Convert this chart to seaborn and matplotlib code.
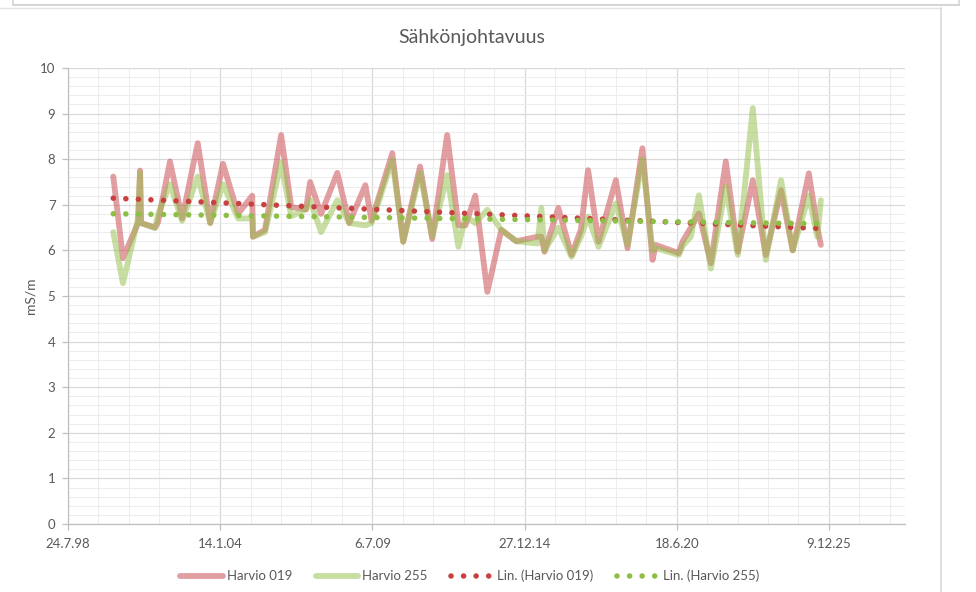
# -*- coding: utf-8 -*-

# Importing Libraries
import numpy as np
import pandas as pd
import matplotlib
matplotlib.use("Agg")
import matplotlib.pyplot as plt
import matplotlib.dates as mdates
from matplotlib.lines import Line2D
from matplotlib.ticker import FixedLocator, FuncFormatter, MultipleLocator
import seaborn as sns

"""# Data (read off the chart)"""

dates = [
    "2000-03-10", "2000-07-15", "2001-01-30", "2001-02-25", "2001-03-10",
    "2001-09-10", "2001-10-20", "2002-03-25", "2002-09-01", "2003-03-25",
    "2003-09-05", "2004-02-20", "2004-09-05", "2005-03-10", "2005-03-20",
    "2005-08-25", "2006-03-25", "2006-08-05", "2007-02-15", "2007-04-10",
    "2007-09-01", "2008-04-01", "2008-09-05", "2009-04-05", "2009-06-25",
    "2010-03-25", "2010-08-15", "2011-03-25", "2011-09-01", "2012-03-15",
    "2012-08-10", "2012-11-10", "2013-03-20", "2013-08-25", "2014-02-25",
    "2014-09-10", "2015-06-15", "2015-08-05", "2015-09-15", "2016-03-15",
    "2016-09-05", "2017-01-05", "2017-04-10", "2017-08-25", "2018-04-10",
    "2018-09-10", "2019-03-25", "2019-08-05", "2019-09-15", "2020-07-15",
    "2020-09-05", "2020-12-20", "2021-04-05", "2021-09-10", "2022-03-25",
    "2022-08-30", "2023-03-15", "2023-09-01", "2024-03-20", "2024-08-20",
    "2025-03-20", "2025-07-10", "2025-08-25",
]

harvio_019 = [
    7.62, 5.83, 6.60, 7.75, 6.60, 6.50, 6.62, 7.95, 6.70, 8.35,
    6.60, 7.90, 6.80, 7.20, 6.30, 6.45, 8.53, 6.95, 6.90, 7.50,
    6.80, 7.70, 6.60, 7.43, 6.65, 8.13, 6.19, 7.84, 6.25, 8.53,
    6.55, 6.55, 7.20, 5.09, 6.45, 6.20, 6.30, 6.30, 5.97, 6.93,
    5.90, 6.45, 7.76, 6.19, 7.54, 6.05, 8.24, 5.79, 6.12, 5.94,
    6.20, 6.50, 6.81, 5.72, 7.95, 5.97, 7.54, 5.90, 7.32, 6.00,
    7.69, 6.50, 6.12,
]

harvio_255 = [
    6.40, 5.28, 6.70, 7.70, 6.60, 6.49, 6.80, 7.45, 6.65, 7.62,
    6.60, 7.45, 6.70, 6.70, 6.30, 6.40, 7.92, 6.75, 6.90, 7.10,
    6.40, 7.10, 6.60, 6.55, 6.60, 7.98, 6.19, 7.70, 6.30, 7.65,
    6.08, 6.75, 6.60, 6.89, 6.45, 6.20, 6.15, 6.93, 6.00, 6.50,
    5.86, 6.30, 6.74, 6.08, 7.03, 6.12, 8.00, 6.00, 6.05, 5.90,
    6.10, 6.30, 7.21, 5.60, 7.40, 5.90, 9.12, 5.79, 7.54, 6.00,
    7.20, 6.30, 7.10,
]

series_names = ["Harvio 019", "Harvio 255"]
trend_names = ["Lin. (Harvio 019)", "Lin. (Harvio 255)"]
y_ticks = list(range(0, 11))

# Excel style date axis: 24.7.98 + 11000 days, major every 2000 days, minor every 400
axis_start = pd.Timestamp("1998-07-24")
axis_days = 11000
major_days = 2000
minor_days = 400

df = pd.DataFrame({
    "date": mdates.date2num(pd.to_datetime(dates)),
    "Harvio 019": harvio_019,
    "Harvio 255": harvio_255,
})

"""# Plot"""

sns.set_style("white")
plt.rcParams['font.family'] = ['Lato', 'DejaVu Sans']

text_color = "#595959"
pink = "#C9474D"
green = "#95BF4D"
red_dot = "#C8403F"
green_dot = "#8CBF45"

fig = plt.figure(figsize=(9.76, 5.92), dpi=100)
ax = fig.add_axes([68 / 976, 68 / 592, 837 / 976, 456 / 592])

sns.lineplot(data=df, x="date", y="Harvio 019", ax=ax, color=pink, alpha=0.52,
             linewidth=4.2, label=series_names[0], sort=False,
             solid_joinstyle="round", solid_capstyle="round")
sns.lineplot(data=df, x="date", y="Harvio 255", ax=ax, color=green, alpha=0.52,
             linewidth=4.2, label=series_names[1], sort=False,
             solid_joinstyle="round", solid_capstyle="round")

# Linear trendlines
sns.regplot(data=df, x="date", y="Harvio 019", ax=ax, scatter=False, ci=None,
            label=trend_names[0],
            line_kws=dict(color=red_dot, linewidth=4.0, linestyle=(0, (0.01, 2.25)),
                          dash_capstyle="round"))
sns.regplot(data=df, x="date", y="Harvio 255", ax=ax, scatter=False, ci=None,
            label=trend_names[1],
            line_kws=dict(color=green_dot, linewidth=4.0, linestyle=(0, (0.01, 2.25)),
                          dash_capstyle="round"))

leg = ax.get_legend()
if leg is not None:
    leg.remove()

# Axes
x0 = mdates.date2num(axis_start)
ax.set_xlim(x0, x0 + axis_days)
ax.set_ylim(0, 10)
ax.xaxis.set_major_locator(FixedLocator(np.arange(x0, x0 + axis_days + 1, major_days)))
ax.xaxis.set_minor_locator(FixedLocator(np.arange(x0, x0 + axis_days + 1, minor_days)))


def date_label(v, pos):
    d = mdates.num2date(v)
    return f"{d.day}.{d.month}.{d:%y}"


ax.xaxis.set_major_formatter(FuncFormatter(date_label))
ax.set_yticks(y_ticks)
ax.yaxis.set_minor_locator(MultipleLocator(0.2))

ax.grid(True, which="major", color="#D9D9D9", linewidth=0.9)
ax.grid(True, which="minor", color="#EDEDED", linewidth=0.8)
ax.set_axisbelow(True)

for side in ["top", "right"]:
    ax.spines[side].set_visible(False)
for side in ["left", "bottom"]:
    ax.spines[side].set_color("#BFBFBF")
    ax.spines[side].set_linewidth(0.9)

ax.tick_params(axis="both", which="major", direction="out", length=4, width=0.9,
               color="#BFBFBF", labelcolor=text_color, labelsize=9.5)
ax.tick_params(axis="y", which="major", pad=5)
ax.tick_params(axis="x", which="major", pad=6)
ax.tick_params(which="minor", length=0)
ax.tick_params(axis="x", which="major", bottom=True)
ax.tick_params(axis="y", which="major", left=True)
ax.set_xlabel("")
ax.set_ylabel("")

fig.text(31 / 976, 0.5, "mS/m", rotation=90, ha="center", va="center",
         fontsize=10, color=text_color)
fig.text(472 / 976, 1 - 37 / 592, "Sähkönjohtavuus", ha="center", va="center",
         fontsize=14, color=text_color)

handles, labels = ax.get_legend_handles_labels()
fig.legend(handles, labels, loc="center", bbox_to_anchor=(470 / 976, 1 - 576 / 592),
           ncol=4, frameon=False, fontsize=9.5, labelcolor=text_color,
           handlelength=3.2, handletextpad=0.3, columnspacing=1.8)

# Screenshot frame lines
frame = "#D6D6D6"
fig.add_artist(Line2D([13 / 976, 959 / 976], [1 - 5 / 592, 1 - 5 / 592], color=frame, lw=1.5))
fig.add_artist(Line2D([13 / 976, 13 / 976], [1, 1 - 5 / 592], color=frame, lw=1.2))
fig.add_artist(Line2D([959 / 976, 959 / 976], [1, 1 - 5 / 592], color=frame, lw=1.2))
fig.add_artist(Line2D([0, 941 / 976], [1 - 8 / 592, 1 - 8 / 592], color="#E4E4E4", lw=1.0))
fig.add_artist(Line2D([941 / 976, 941 / 976], [1 - 8 / 592, 0], color="#D9D9D9", lw=1.2))

fig.savefig("out.png", dpi=100)
